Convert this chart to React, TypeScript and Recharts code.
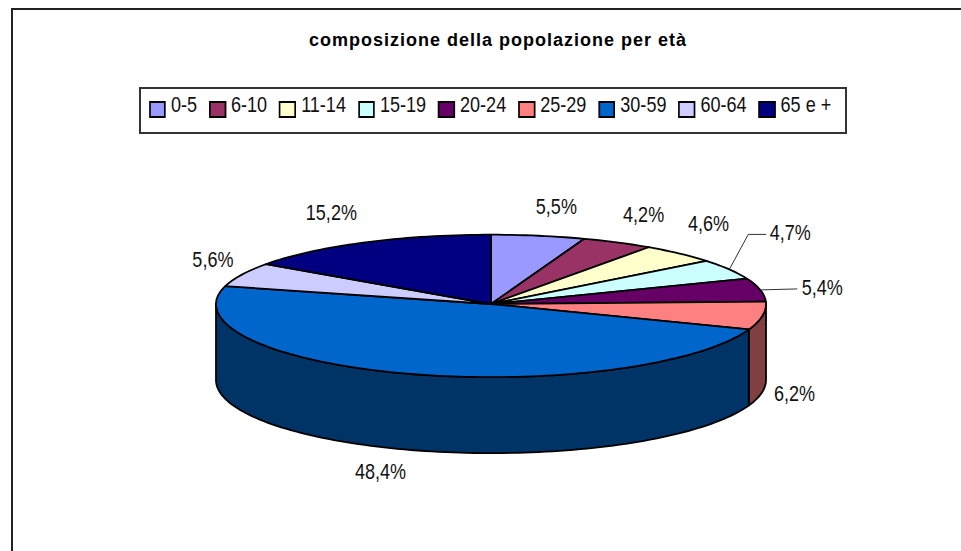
import { PieChart, Pie, Cell, Legend } from 'recharts';

const ageGroups = ['0-5', '6-10', '11-14', '15-19', '20-24', '25-29', '30-59', '60-64', '65 e +'];
const shares = [5.5, 4.2, 4.6, 4.7, 5.4, 6.2, 48.4, 5.6, 15.2];
const sliceColors = ['#9999FF', '#993366', '#FFFFCC', '#CCFFFF', '#660066', '#FF8080', '#0066CC', '#CCCCFF', '#000080'];
const sideColors = ['#4c4c80', '#4c1933', '#808066', '#668080', '#330033', '#804040', '#003366', '#666680', '#000040'];

const data = ageGroups.map((name, i) => ({ name, value: shares[i] }));

// perspective: the far half of the disc is flatter than the near half
const SQUASH_BACK = 0.252;
const SQUASH_FRONT = 0.266;
const DEPTH = 76;
const RAD = Math.PI / 180;
const NARROW = 0.82; // the reference text is a condensed Arial, no narrow face is installed
const FONT = '"Liberation Sans", Arial, sans-serif';

// label nudges from the point on the rim, in px
const labelNudges = [
  [18, -29], [26, -28], [29, -30], [61, -37], [62, -3], [32, 78], [-27, 98], [-29, -15], [-33, -30],
];

const ellipsePoint = (cx: number, cy: number, r: number, deg: number) => {
  const s = Math.sin(deg * RAD);
  return {
    x: cx + r * Math.cos(deg * RAD),
    y: cy - r * (s > 0 ? SQUASH_BACK : SQUASH_FRONT) * s,
  };
};

// walks the rim from one angle to another, clockwise (decreasing angle)
const rimPoints = (cx: number, cy: number, r: number, from: number, to: number) => {
  const steps = Math.max(2, Math.ceil((from - to) / 1.5));
  const pts = [];
  for (let i = 0; i <= steps; i++) {
    pts.push(ellipsePoint(cx, cy, r, from + ((to - from) * i) / steps));
  }
  return pts;
};

const toPath = (pts: { x: number; y: number }[]) => pts.map((p) => `${p.x},${p.y}`).join(' L');

function PieSlice3D(props: any) {
  const { cx, cy, outerRadius: r, startAngle, endAngle, fill, index } = props;
  const top = `M${cx},${cy} L${toPath(rimPoints(cx, cy, r, startAngle, endAngle))} Z`;

  // the visible wall only exists on the front half of the rim (angles 0 to -180)
  const wallStart = Math.min(startAngle, 0);
  const wallEnd = Math.max(endAngle, -180);
  let wall = null;
  if (wallStart > wallEnd) {
    const upper = rimPoints(cx, cy, r, wallStart, wallEnd);
    const lower = upper.map((p) => ({ x: p.x, y: p.y + DEPTH })).reverse();
    wall = (
      <path d={`M${toPath(upper)} L${toPath(lower)} Z`} fill={sideColors[index]} stroke="#000" strokeWidth={1.8} strokeLinejoin="round" />
    );
  }
  return (
    <g>
      {wall}
      <path d={top} fill={fill} stroke="#000" strokeWidth={1.8} strokeLinejoin="round" />
    </g>
  );
}

function SliceLabel(props: any) {
  const { cx, cy, outerRadius: r, midAngle, index, value } = props;
  const rim = ellipsePoint(cx, cy, r, midAngle);
  const [dx, dy] = labelNudges[index];
  const x = rim.x + dx;
  const y = rim.y + dy;
  const text = value.toFixed(1).replace('.', ',') + '%';
  let leader = null;
  if (index === 3) {
    leader = <path d={`M${rim.x},${rim.y} L${x - 42},${y + 2} L${x - 24},${y + 2}`} fill="none" stroke="#333" strokeWidth={1} />;
  }
  if (index === 4) {
    leader = <path d={`M${rim.x},${rim.y} L${x - 25},${y + 2}`} fill="none" stroke="#333" strokeWidth={1} />;
  }
  return (
    <g>
      {leader}
      <text
        transform={`translate(${x},${y}) scale(${NARROW},1)`}
        textAnchor="middle"
        dominantBaseline="central"
        fontFamily={FONT}
        fontSize={22}
        fill="#111"
      >
        {text}
      </text>
    </g>
  );
}

function AgeLegend({ payload }: any) {
  return (
    <div
      style={{
        boxSizing: 'border-box',
        height: 47,
        border: '2px solid #333',
        background: '#fff',
        overflow: 'hidden',
      }}
    >
      <div
        style={{
          display: 'flex',
          alignItems: 'center',
          height: 43,
          paddingLeft: 8 / NARROW,
          whiteSpace: 'nowrap',
          transform: `scaleX(${NARROW})`,
          transformOrigin: 'left center',
          fontFamily: FONT,
          fontSize: 22,
          color: '#111',
        }}
      >
        {payload.map((entry: any) => (
          <span key={entry.value} style={{ display: 'flex', alignItems: 'center', marginRight: 12 / NARROW }}>
            <span
              style={{
                width: 17 / NARROW,
                height: 17,
                boxSizing: 'border-box',
                border: '2px solid #000',
                background: entry.color,
                marginRight: 5 / NARROW,
                position: 'relative',
                top: -1,
              }}
            />
            <span style={{ position: 'relative', top: -6 }}>{entry.value}</span>
          </span>
        ))}
      </div>
    </div>
  );
}

export default function App() {
  return (
    <div style={{ position: 'absolute', left: 11, top: 8, width: 950, height: 543, overflow: 'hidden', borderTop: '2px solid #222', borderLeft: '2px solid #222', boxSizing: 'border-box', background: '#fff' }}>
      <div style={{ position: 'absolute', left: 0, top: 20, width: 970, textAlign: 'center', fontFamily: FONT, fontWeight: 'bold', fontSize: 18, letterSpacing: 1, color: '#000' }}>
        composizione della popolazione per età
      </div>
      <PieChart width={948} height={541} margin={{ top: 0, right: 0, bottom: 0, left: 0 }}>
        <Legend
          content={<AgeLegend />}
          itemSorter={null}
          layout="horizontal"
          verticalAlign="top"
          align="left"
          wrapperStyle={{ left: 126, top: 77, width: 708 }}
        />
        <Pie
          data={data}
          dataKey="value"
          nameKey="name"
          cx={478}
          cy={247}
          outerRadius={275}
          startAngle={90}
          endAngle={-270}
          paddingAngle={0}
          stroke="#000"
          isAnimationActive={false}
          shape={<PieSlice3D />}
          label={<SliceLabel />}
          labelLine={false}
        >
          {data.map((d, i) => (
            <Cell key={d.name} fill={sliceColors[i]} />
          ))}
        </Pie>
      </PieChart>
    </div>
  );
}
